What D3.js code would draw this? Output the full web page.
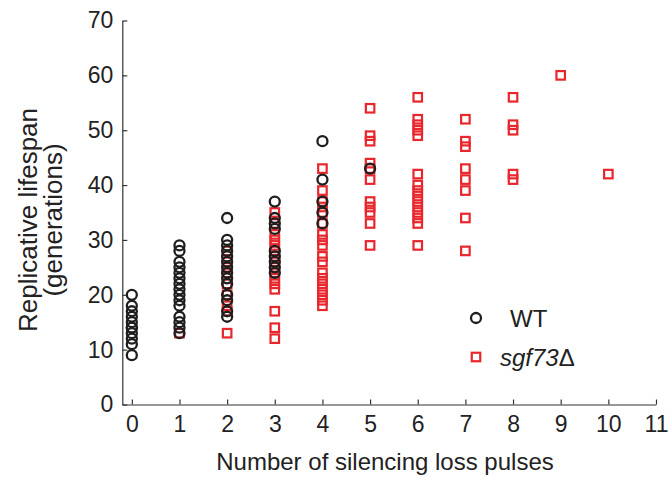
<!DOCTYPE html>
<html>
<head>
<meta charset="utf-8">
<script src="https://cdn.jsdelivr.net/npm/d3@7"></script>
<style>
  body { margin: 0; background: #fff; }
  text { font-family: "Liberation Sans", Arial, sans-serif; fill: #222; }
</style>
</head>
<body>
<div class="chart"></div>
<script>
// values: [pulses, lifespan]
var wtData = [
  [0, 20], [0, 18], [0, 17], [0, 16], [0, 15], [0, 14], [0, 14], [0, 13], [0, 12], [0, 11], [0, 9],
  [1, 29], [1, 28], [1, 26], [1, 25], [1, 24], [1, 23], [1, 22], [1, 21], [1, 20], [1, 19], [1, 18], [1, 16], [1, 15], [1, 14], [1, 13],
  [2, 34], [2, 30], [2, 29], [2, 28], [2, 27], [2, 26], [2, 25], [2, 24], [2, 23], [2, 22], [2, 20], [2, 19], [2, 17], [2, 16],
  [3, 37], [3, 34], [3, 33], [3, 32], [3, 28], [3, 27], [3, 26], [3, 25], [3, 24],
  [4, 48], [4, 41], [4, 37], [4, 35], [4, 33],
  [5, 43]
];
var sgfData = [
  [1, 13],
  [2, 28], [2, 26], [2, 25], [2, 24], [2, 22], [2, 20], [2, 18], [2, 17], [2, 13],
  [3, 35], [3, 33], [3, 31], [3, 30], [3, 29], [3, 28], [3, 27], [3, 26], [3, 25], [3, 24], [3, 23], [3, 22], [3, 21], [3, 17], [3, 14], [3, 12],
  [4, 43], [4, 39], [4, 37], [4, 36], [4, 35], [4, 33], [4, 31], [4, 30], [4, 29], [4, 27], [4, 26], [4, 24], [4, 23], [4, 22], [4, 21], [4, 20], [4, 19], [4, 18],
  [5, 54], [5, 49], [5, 48], [5, 44], [5, 43], [5, 41], [5, 37], [5, 36], [5, 35], [5, 33], [5, 29],
  [6, 56], [6, 52], [6, 51], [6, 50], [6, 49], [6, 42], [6, 40], [6, 39], [6, 38], [6, 37], [6, 36], [6, 35], [6, 34], [6, 33], [6, 29],
  [7, 52], [7, 48], [7, 47], [7, 43], [7, 41], [7, 39], [7, 34], [7, 28],
  [8, 56], [8, 51], [8, 50], [8, 42], [8, 41],
  [9, 60],
  [10, 42]
];
var xTicks = d3.range(0, 12);
var yTicks = d3.range(0, 71, 10);

var W = 669, H = 477;
var margin = ({top: 20.5, right: 13, bottom: 72.5, left: 122.3});
var width = W - margin.left - margin.right,
    height = H - margin.top - margin.bottom;

var red = "#e8262c", black = "#1e1e1e";

var svg = d3.select(".chart").append("svg")
    .attr("width", W)
    .attr("height", H);
var g = svg.append("g")
    .attr("transform", "translate(" + margin.left + "," + margin.top + ")");

var x = d3.scaleLinear().domain([-0.2, 11]).range([0, width]);
var y = d3.scaleLinear().domain([0, 70]).range([height, 0]);

// axes, ticks pointing inward like matlab
var xAxis = g.append("g")
    .attr("transform", "translate(0," + height + ")")
    .call(d3.axisBottom(x).tickValues(xTicks).tickSizeInner(-5).tickSizeOuter(0).tickPadding(11));
var yAxis = g.append("g")
    .call(d3.axisLeft(y).tickValues(yTicks).tickSizeInner(-5).tickSizeOuter(0).tickPadding(9));

[xAxis, yAxis].forEach(a => {
    a.select(".domain").attr("stroke", "#333").attr("stroke-width", 1.2);
    a.selectAll(".tick line").attr("stroke", "#333").attr("stroke-width", 1.2);
    a.selectAll(".tick text")
        .style("font-family", "Liberation Sans, Arial, sans-serif")
        .attr("font-size", 23).attr("fill", "#222");
});
xAxis.selectAll(".tick text").attr("dy", "0.71em");

// sgf73 squares first, circles drawn on top
var s = 8.5;
g.append("g").selectAll("rect")
    .data(sgfData)
    .join("rect")
    .attr("x", d => x(d[0]) - s / 2)
    .attr("y", d => y(d[1]) - s / 2)
    .attr("width", s).attr("height", s)
    .attr("fill", "none")
    .attr("stroke", red)
    .attr("stroke-width", 2.2);

g.append("g").selectAll("circle")
    .data(wtData)
    .join("circle")
    .attr("cx", d => x(d[0]))
    .attr("cy", d => y(d[1]))
    .attr("r", 5)
    .attr("fill", "none")
    .attr("stroke", black)
    .attr("stroke-width", 2.3);

// legend
var leg = svg.append("g");
leg.append("circle").attr("cx", 476).attr("cy", 318).attr("r", 5)
    .attr("fill", "none").attr("stroke", black).attr("stroke-width", 2.3);
leg.append("text").attr("x", 510).attr("y", 327).attr("font-size", 24).text("WT");
leg.append("rect").attr("x", 476 - s / 2).attr("y", 357 - s / 2).attr("width", s).attr("height", s)
    .attr("fill", "none").attr("stroke", red).attr("stroke-width", 2.2);
var lt = leg.append("text").attr("x", 500).attr("y", 366).attr("font-size", 24);
lt.append("tspan").attr("font-style", "italic").text("sgf73");
lt.append("tspan").text("Δ");

// axis titles
svg.append("text")
    .attr("x", 385).attr("y", 470)
    .attr("text-anchor", "middle").attr("font-size", 24)
    .text("Number of silencing loss pulses");
var yt = svg.append("text")
    .attr("transform", "translate(37,220) rotate(-90)")
    .attr("text-anchor", "middle").attr("font-size", 26);
yt.append("tspan").attr("x", 0).attr("dy", 0).text("Replicative lifespan");
yt.append("tspan").attr("x", 0).attr("dy", 25).text("(generations)");
</script>
</body>
</html>
